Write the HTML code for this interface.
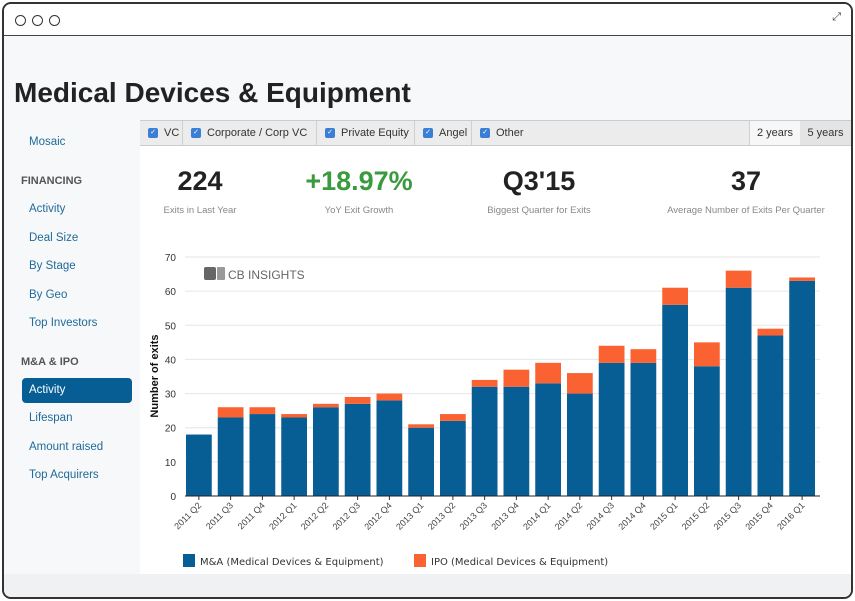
<!DOCTYPE html>
<html><head><meta charset="utf-8"><style>
*{box-sizing:border-box;margin:0;padding:0}
body{width:855px;height:601px;background:#fff;font-family:"Liberation Sans",sans-serif;position:relative;overflow:hidden}
.abs{position:absolute}
.frame{left:2px;top:2px;width:851px;height:597px;border:2px solid #333;border-radius:9px;background:#f7f8f9;overflow:hidden}
.topbar{left:0;top:0;width:100%;height:32px;background:#fff;border-bottom:1.5px solid #444}
.dot{top:11px;width:11px;height:11px;border:1.3px solid #333;border-radius:50%}
.side a{position:absolute;left:29px;font-size:11.5px;color:#1f6a9a;text-decoration:none}
.cb{display:inline-block;width:10px;height:10px;background:#3a7fd5;border-radius:2px;color:#fff;font-size:7px;line-height:10px;text-align:center;margin-right:6px;vertical-align:middle}
.filt{top:121px;height:24px;font-size:11px;color:#333;line-height:24px;padding-left:8px;border-right:1px solid #d0d0d0;white-space:nowrap}
.stat{text-align:center;width:180px}
.stat b{display:block;font-size:27px;color:#222}
.stat span{display:block;font-size:9.5px;color:#888;margin-top:8px}
</style></head><body>
<div class="abs frame">
<div class="abs topbar">
<div class="abs dot" style="left:11px"></div>
<div class="abs dot" style="left:28px"></div>
<div class="abs dot" style="left:45px"></div>
<div class="abs" style="right:10px;top:7px;font-size:11px;color:#444">⤢</div>
</div>
<div class="abs" style="left:0;top:570px;width:100%;height:30px;background:#f0f1f2"></div>
<div class="abs" style="left:136px;top:118px;width:713px;height:452px;background:#fff"></div>
</div>
<div class="abs" style="left:14px;top:77px;font-size:28px;font-weight:bold;color:#222">Medical Devices &amp; Equipment</div>
<div class="side">
<a style="top:136px">Mosaic</a>
<div class="abs" style="left:21px;top:175px;font-size:11px;font-weight:bold;color:#555">FINANCING</div>
<a style="top:203px">Activity</a>
<a style="top:232px">Deal Size</a>
<a style="top:260px">By Stage</a>
<a style="top:289px">By Geo</a>
<a style="top:317px">Top Investors</a>
<div class="abs" style="left:21px;top:356px;font-size:11px;font-weight:bold;color:#555">M&amp;A &amp; IPO</div>
<div class="abs" style="left:22px;top:378px;width:110px;height:25px;background:#065e95;border-radius:4px"></div>
<a style="top:384px;color:#fff">Activity</a>
<a style="top:412px">Lifespan</a>
<a style="top:441px">Amount raised</a>
<a style="top:469px">Top Acquirers</a>
</div>
<div class="abs" style="left:140px;top:120px;width:711px;height:26px;background:#ececec;border-top:1px solid #ccc;border-bottom:1px solid #ccc"></div>
<div class="abs filt" style="left:140px;width:43px"><span class="cb">✓</span>VC</div>
<div class="abs filt" style="left:183px;width:134px"><span class="cb">✓</span>Corporate / Corp VC</div>
<div class="abs filt" style="left:317px;width:98px"><span class="cb">✓</span>Private Equity</div>
<div class="abs filt" style="left:415px;width:57px"><span class="cb">✓</span>Angel</div>
<div class="abs filt" style="left:472px;width:60px;border:none"><span class="cb">✓</span>Other</div>
<div class="abs" style="left:749px;top:121px;width:51px;height:24px;background:#f7f7f7;border-left:1px solid #d0d0d0;font-size:11px;line-height:24px;text-align:center;color:#333">2 years</div>
<div class="abs" style="left:800px;top:121px;width:51px;height:24px;background:#e4e4e4;font-size:11px;line-height:24px;text-align:center;color:#333">5 years</div>
<div class="abs stat" style="left:110px;top:166px"><b>224</b><span>Exits in Last Year</span></div>
<div class="abs stat" style="left:269px;top:166px"><b style="color:#3a9a3e">+18.97%</b><span>YoY Exit Growth</span></div>
<div class="abs stat" style="left:449px;top:166px"><b>Q3'15</b><span>Biggest Quarter for Exits</span></div>
<div class="abs stat" style="left:626px;top:166px;width:240px"><b>37</b><span>Average Number of Exits Per Quarter</span></div>
<svg class="abs" id="chart" style="left:0;top:0" width="855" height="601"></svg>
<script>
const categories=["2011 Q2","2011 Q3","2011 Q4","2012 Q1","2012 Q2","2012 Q3","2012 Q4","2013 Q1","2013 Q2","2013 Q3","2013 Q4","2014 Q1","2014 Q2","2014 Q3","2014 Q4","2015 Q1","2015 Q2","2015 Q3","2015 Q4","2016 Q1"];
const maValues=[18,23,24,23,26,27,28,20,22,32,32,33,30,39,39,56,38,61,47,63];
const ipoValues=[0,3,2,1,1,2,2,1,2,2,5,6,6,5,4,5,7,5,2,1];
const yTicks=[0,10,20,30,40,50,60,70];
const NS="http://www.w3.org/2000/svg";
const svg=document.getElementById('chart');
const x0=185,x1=820,y0=496,yTop=257,yMax=70;
const y=v=>y0-(v/yMax)*(y0-yTop);
const step=(x1-x0)/categories.length;
const x=i=>x0+i*step;
function mk(t,a){const e=document.createElementNS(NS,t);for(const k in a)e.setAttribute(k,a[k]);svg.appendChild(e);return e;}
yTicks.forEach(t=>{
  if(t>0){const g=mk('line',{x1:x0,x2:x1,y1:y(t),y2:y(t),stroke:'#e6e6e6','stroke-width':1});
  
  }
  const l=mk('text',{x:176,y:y(t)+4,'text-anchor':'end','font-size':10,fill:'#333','font-family':'Liberation Sans, sans-serif'});
  l.textContent=t;
  
  
});
categories.forEach((c,i)=>{
  const bx=x(i)+1,bw=step-6;
  const r1=mk('rect',{x:bx,y:y(maValues[i]),width:bw,height:y0-y(maValues[i]),fill:'#065e95'});
  
  
  if(ipoValues[i]>0){
    const r2=mk('rect',{x:bx,y:y(maValues[i]+ipoValues[i]),width:bw,height:y(maValues[i])-y(maValues[i]+ipoValues[i]),fill:'#fa6231'});
    
    
  }
  const cx=bx+bw/2;
  const tk=mk('line',{x1:cx,x2:cx,y1:y0,y2:y0+4,stroke:'#333'});
  
  
  const t=mk('text',{x:cx+3,y:y0+10,'text-anchor':'end','font-size':9,fill:'#444','font-family':'Liberation Sans, sans-serif',transform:`rotate(-45 ${cx+3} ${y0+10})`});
  t.textContent=c;
  
  
});
const ax=mk('line',{x1:x0,x2:x1,y1:y0,y2:y0,stroke:'#222','stroke-width':1});


const yt=mk('text',{x:158,y:376,'text-anchor':'middle','font-size':11,'font-weight':'bold',fill:'#111','font-family':'Liberation Sans, sans-serif',transform:'rotate(-90 158 376)'});
yt.textContent='Number of exits';


const logoA=mk('rect',{x:204,y:267,width:12,height:13,rx:2,fill:'#666'});


const logoB=mk('rect',{x:217,y:267,width:8,height:13,rx:1,fill:'#999'});


const logo=mk('text',{x:228,y:279,'font-size':12,fill:'#666','font-family':'Liberation Sans, sans-serif'});
logo.textContent='CB INSIGHTS';


[[183,'#065e95','M&A (Medical Devices & Equipment)'],[414,'#fa6231','IPO (Medical Devices & Equipment)']].forEach(([lx,col,txt])=>{
  const s=mk('rect',{x:lx,y:554,width:12,height:13,fill:col});
  
  
  const t=mk('text',{x:lx+17,y:565,'font-size':10,fill:'#333','font-family':'DejaVu Sans, sans-serif'});
  t.textContent=txt;
  
  
});
</script>
</body></html>
